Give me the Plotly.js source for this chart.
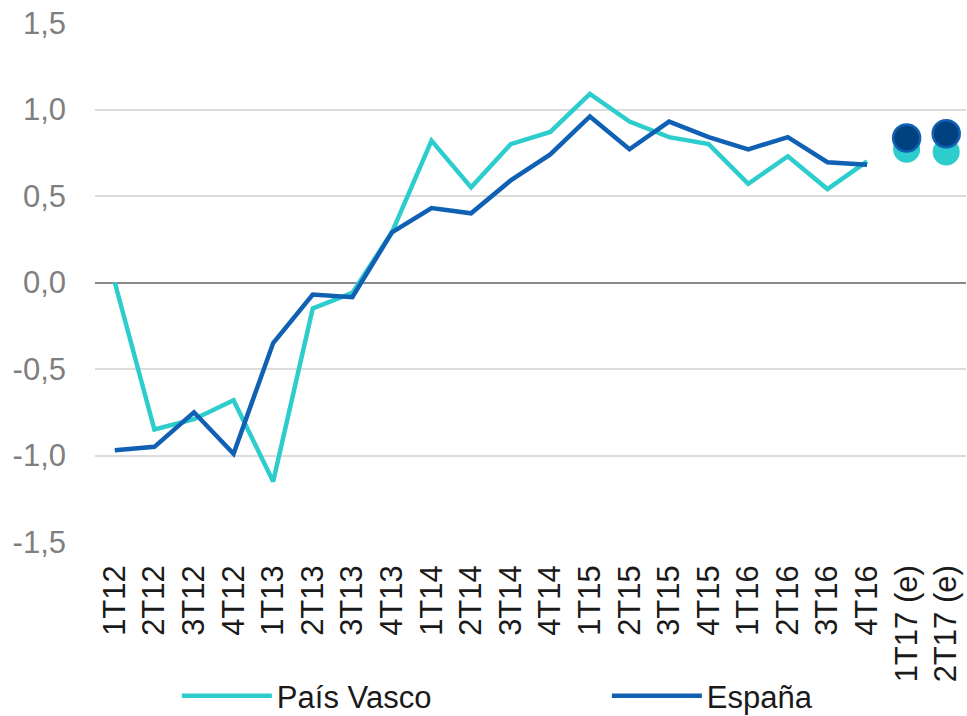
<!DOCTYPE html>
<html>
<head>
<meta charset="utf-8">
<script src="https://cdn.plot.ly/plotly-3.0.1.min.js"></script>
<style>
  html, body { margin: 0; padding: 0; background: #ffffff; }
  #chart { width: 967px; height: 716px; }
</style>
</head>
<body>
<div id="chart"></div>
<script>
const categories = ['1T12','2T12','3T12','4T12','1T13','2T13','3T13','4T13','1T14','2T14','3T14','4T14','1T15','2T15','3T15','4T15','1T16','2T16','3T16','4T16','1T17 (e)','2T17 (e)'];
const observedCategories = categories.slice(0, 20);
const estimateCategories = categories.slice(20);

const paisVasco = [0.00, -0.85, -0.79, -0.68, -1.15, -0.15, -0.06, 0.29, 0.82, 0.55, 0.80, 0.87, 1.09, 0.93, 0.84, 0.80, 0.57, 0.73, 0.54, 0.70];
const espana    = [-0.97, -0.95, -0.75, -0.99, -0.35, -0.07, -0.085, 0.29, 0.43, 0.40, 0.59, 0.74, 0.96, 0.77, 0.93, 0.84, 0.77, 0.84, 0.695, 0.68];
const paisVascoEst = [0.77, 0.755];
const espanaEst    = [0.835, 0.86];

const yTickValues = [-1.5, -1.0, -0.5, 0, 0.5, 1.0, 1.5];
const yTickLabels = ['-1,5', '-1,0', '-0,5', '0,0', '0,5', '1,0', '1,5'];

const teal = '#2ECDCD';
const blue = '#1060B4';
const navy = '#00417F';

const traces = [
  { x: observedCategories, y: paisVasco, type: 'scatter', mode: 'lines', name: 'País Vasco',
    line: { color: teal, width: 4.5 } },
  { x: observedCategories, y: espana, type: 'scatter', mode: 'lines', name: 'España',
    line: { color: blue, width: 4.5 } },
  { x: estimateCategories, y: paisVascoEst, type: 'scatter', mode: 'markers', name: 'País Vasco (e)',
    showlegend: false, marker: { color: teal, size: 27, line: { width: 0 } } },
  { x: estimateCategories, y: espanaEst, type: 'scatter', mode: 'markers', name: 'España (e)',
    showlegend: false, marker: { color: navy, size: 27, line: { color: blue, width: 2.5 } } }
];

const layout = {
  width: 967, height: 716,
  margin: { l: 95, r: 1, t: 23, b: 174, autoexpand: false },
  paper_bgcolor: '#ffffff', plot_bgcolor: '#ffffff',
  font: { family: 'Liberation Sans, Arial, sans-serif', size: 31, color: '#1a1a1a' },
  showlegend: true,
  legend: {
    orientation: 'h', x: 0.094, xanchor: 'left', y: -0.297, yanchor: 'middle',
    font: { size: 31, color: '#1a1a1a' }, itemwidth: 90, entrywidth: 325,
    bgcolor: 'rgba(0,0,0,0)'
  },
  xaxis: {
    type: 'category', categoryorder: 'array', categoryarray: categories,
    range: [-0.5, categories.length - 0.5], automargin: false,
    showgrid: false, showline: false, zeroline: false, ticks: '',
    tickangle: -90, ticklabelstandoff: 16,
    tickfont: { size: 31, color: '#1a1a1a' }
  },
  yaxis: {
    range: [-1.5, 1.5], tickvals: yTickValues, ticktext: yTickLabels, automargin: false,
    showgrid: true, gridcolor: '#DCDCDC', gridwidth: 2,
    zeroline: true, zerolinecolor: '#8A8A8A', zerolinewidth: 2,
    showline: false, ticks: '', ticklabelstandoff: 28,
    tickfont: { size: 31, color: '#7F7F7F' }
  }
};

Plotly.newPlot('chart', traces, layout, { displayModeBar: false, staticPlot: true });
</script>
</body>
</html>
